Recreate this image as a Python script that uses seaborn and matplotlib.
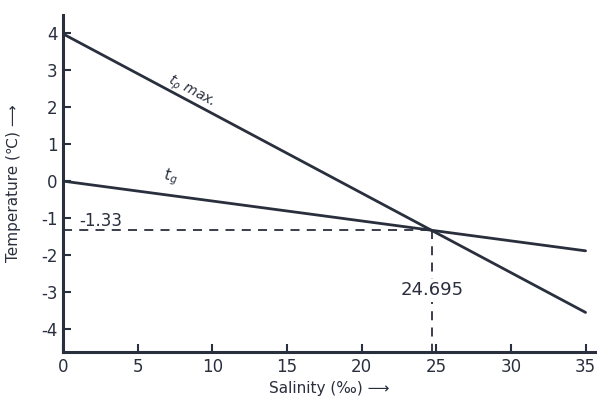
import matplotlib
matplotlib.use("Agg")
import matplotlib.pyplot as plt
import seaborn as sns
import pandas as pd

# Data
salinity = [0, 35]
t_rho_max = [3.98, -3.55]
t_freeze = [0.0, -1.885]
x_ticks = [0, 5, 10, 15, 20, 25, 30, 35]
y_ticks = [-4, -3, -2, -1, 0, 1, 2, 3, 4]
cross_s = 24.695
cross_t = -1.33

sns.set_style("ticks")
plt.rcParams['font.family'] = ['DejaVu Sans']
plt.rcParams['axes.unicode_minus'] = False
ink = "#2a2f3d"

fig = plt.figure(figsize=(5.97, 4.03), dpi=100)
ax = fig.add_axes([63/597, (403-352)/403, (596-63)/597, 337/403])

df = pd.DataFrame({"S": salinity * 2,
                   "T": t_rho_max + t_freeze,
                   "line": ["rho"] * 2 + ["g"] * 2})
sns.lineplot(data=df, x="S", y="T", units="line", estimator=None,
             color=ink, linewidth=2.0, ax=ax)

ax.set_xlim(0, 35.7)
ax.set_ylim(-4.62, 4.49)
ax.plot([0, cross_s], [cross_t, cross_t], ls=(0, (5, 4)), color=ink, lw=1.3)
ax.plot([cross_s, cross_s], [cross_t, -4.62], ls=(0, (5, 4)), color=ink, lw=1.3)

ax.set_xticks(x_ticks)
ax.set_yticks(y_ticks)
ax.tick_params(direction="in", length=6, width=1.5, colors=ink, labelsize=12, pad=4)
for s in ["top", "right"]:
    ax.spines[s].set_visible(False)
for s in ["left", "bottom"]:
    ax.spines[s].set_linewidth(2.2)
    ax.spines[s].set_color(ink)

ax.set_xlabel("Salinity (‰) ⟶", fontsize=11, color=ink, labelpad=4)
ax.set_ylabel("Temperature (℃) ⟶", fontsize=11, color=ink, labelpad=14)

ax.text(1.1, -1.08, "-1.33", fontsize=12, color=ink, ha="left", va="center")
ax.text(cross_s, -2.95, "24.695", fontsize=13, color=ink, ha="center", va="center",
        bbox=dict(facecolor="white", edgecolor="none", pad=2))
ax.text(8.6, 2.42, "t$_{\\rho}$ max.", fontsize=10, color=ink, rotation=-28,
        ha="center", va="center", style="italic")
ax.text(7.2, 0.12, "t$_g$", fontsize=11, color=ink, rotation=-8,
        ha="center", va="center", style="italic")

fig.savefig("out.png", dpi=100, facecolor="white")
